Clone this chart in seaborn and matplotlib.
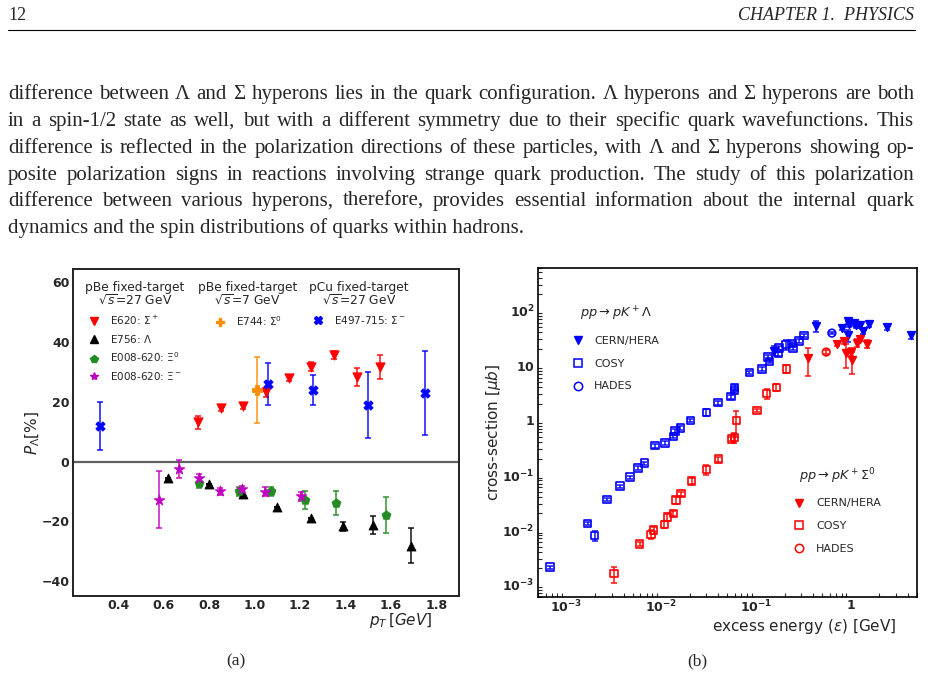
import matplotlib
matplotlib.use("Agg")
import matplotlib.pyplot as plt
import seaborn as sns
from matplotlib.lines import Line2D

# ---------------- page text ----------------
page_number = "12"
chapter_title = "CHAPTER 1.  PHYSICS"
para_lines = [
    "difference between \u039b and \u03a3 hyperons lies in the quark configuration. \u039b hyperons and \u03a3 hyperons are both",
    "in a spin-1/2 state as well, but with a different symmetry due to their specific quark wavefunctions. This",
    "difference is reflected in the polarization directions of these particles, with \u039b and \u03a3 hyperons showing op-",
    "posite polarization signs in reactions involving strange quark production. The study of this polarization",
    "difference between various hyperons, therefore, provides essential information about the internal quark",
    "dynamics and the spin distributions of quarks within hadrons.",
]

# ---------------- (a) hyperon polarization ----------------
e620_pt = [0.75, 0.85, 0.95, 1.05, 1.15, 1.25, 1.35, 1.45, 1.55]
e620_p = [13.2, 17.9, 18.6, 23.3, 28.0, 31.7, 35.7, 28.3, 31.7]
e620_err = [2.2, 1.0, 1.0, 1.5, 1.0, 1.5, 1.5, 2.9, 3.9]

e756_pt = [0.62, 0.80, 0.95, 1.10, 1.25, 1.39, 1.52, 1.69]
e756_p = [-5.6, -7.6, -10.8, -15.3, -18.9, -21.7, -21.3, -28.1]
e756_err = [0.0, 0.0, 0.0, 0.0, 0.0, 1.5, 3.0, 5.8]

xi0_pt = [0.753, 0.93, 1.07, 1.22, 1.36, 1.58]
xi0_p = [-7.1, -9.9, -9.9, -13.0, -13.8, -18.0]
xi0_err = [1.7, 1.5, 1.5, 3.0, 4.0, 6.0]

xim_pt = [0.577, 0.669, 0.756, 0.847, 0.943, 1.044, 1.203]
xim_p = [-12.7, -2.6, -5.6, -9.9, -9.3, -10.1, -11.6]
xim_err = [9.5, 3.0, 1.5, 1.2, 1.2, 1.5, 1.5]

e744_pt = [1.01]
e744_p = [24.0]
e744_err = [11.0]

e497_pt = [0.32, 1.06, 1.255, 1.50, 1.75]
e497_p = [12.0, 26.0, 24.0, 19.0, 23.0]
e497_err = [8.0, 7.0, 5.0, 11.0, 14.0]

# ---------------- (b) cross sections ----------------
lam_cosy_e = [6.7e-4, 1.67e-3, 1.98e-3, 2.67e-3, 3.67e-3, 4.71e-3, 5.7e-3, 6.65e-3,
              8.6e-3, 1.1e-2, 1.34e-2, 1.39e-2, 1.59e-2, 2.03e-2, 3.0e-2, 3.96e-2,
              5.46e-2, 5.9e-2, 5.95e-2, 8.5e-2, 0.115, 0.134, 0.139, 0.172, 0.175,
              0.206, 0.241, 0.247, 0.283, 0.319]
lam_cosy_xs = [2.1e-3, 1.32e-2, 8.0e-3, 3.6e-2, 6.3e-2, 9.2e-2, 0.134, 0.165,
               0.345, 0.39, 0.51, 0.64, 0.73, 1.0, 1.4, 2.1,
               2.7, 3.5, 4.0, 7.4, 8.7, 14.3, 11.9, 16.5, 21.0,
               24.0, 25.0, 21.0, 28.0, 35.0]
lam_cosy_err = [1.5e-4, 1.0e-3, 1.6e-3, 2.5e-3, 4e-3, 6e-3, 0.01, 0.012,
                0.03, 0.03, 0.04, 0.05, 0.05, 0.07, 0.2, 0.2,
                0.2, 0.3, 0.4, 0.4, 0.6, 1.5, 1.0, 1.5, 2.0,
                5.0, 2.0, 2.0, 2.0, 2.0]
lam_hades_e = [0.632]
lam_hades_xs = [39.0]
lam_hades_err = [2.0]
lam_cern_e = [0.156, 0.434, 0.805, 0.93, 0.96, 0.94, 1.08, 1.13, 1.25, 1.33, 1.55, 2.41, 4.34]
lam_cern_xs = [18.6, 52.0, 48.0, 66.0, 57.0, 36.0, 60.0, 54.0, 54.0, 43.0, 56.0, 50.0, 36.0]
lam_cern_err = [4.0, 12.0, 4.0, 8.0, 6.0, 9.0, 7.0, 6.0, 5.0, 6.0, 5.0, 6.0, 5.0]

sig_cosy_e = [3.16e-3, 5.9e-3, 7.8e-3, 8.3e-3, 1.08e-2, 1.16e-2, 1.34e-2, 1.42e-2,
              1.61e-2, 2.09e-2, 3.0e-2, 4.0e-2, 5.5e-2, 5.9e-2, 6.2e-2, 0.102,
              0.129, 0.164, 0.209]
sig_cosy_xs = [1.6e-3, 5.6e-3, 8.3e-3, 9.9e-3, 1.27e-2, 1.73e-2, 2.0e-2, 3.5e-2,
               4.6e-2, 7.8e-2, 0.127, 0.196, 0.456, 0.49, 1.0, 1.5,
               3.1, 4.0, 8.7]
sig_cosy_err = [5e-4, 5e-4, 1.5e-3, 1.5e-3, 2e-3, 2.5e-3, 2e-3, 5e-3,
                4e-3, 0.01, 0.025, 0.02, 0.04, 0.1, 0.5, 0.1,
                0.6, 0.6, 1.5]
sig_hades_e = [0.55]
sig_hades_xs = [17.6]
sig_hades_err = [1.5]
sig_cern_e = [0.355, 0.724, 0.857, 0.88, 1.0, 1.02, 1.15, 1.25, 1.47]
sig_cern_xs = [13.5, 25.0, 28.0, 16.9, 17.6, 12.4, 26.0, 31.0, 25.0]
sig_cern_err = [7.0, 2.5, 3.0, 8.0, 3.0, 5.5, 4.0, 3.0, 4.0]

sns.set_style("white")
plt.rcParams["font.family"] = ["DejaVu Sans"]
plt.rcParams["mathtext.fontset"] = "dejavusans"

W, H = 929, 677
fig = plt.figure(figsize=(W / 100, H / 100), dpi=100)
serif = ["Liberation Serif", "DejaVu Serif"]

# ---------------- panel (a) ----------------
ax1 = fig.add_axes([73 / W, 1 - 596 / H, 386 / W, 327 / H])
pol_series = [
    (e620_pt, e620_p, e620_err, "v", "red", 45, "E620: $\\Sigma^+$"),
    (e756_pt, e756_p, e756_err, "^", "black", 42, "E756: $\\Lambda$"),
    (xi0_pt, xi0_p, xi0_err, "p", "#228B22", 45, "E008-620: $\\Xi^0$"),
    (xim_pt, xim_p, xim_err, "*", "#c000c0", 65, "E008-620: $\\Xi^-$"),
    (e744_pt, e744_p, e744_err, "P", "darkorange", 45, "E744: $\\Sigma^0$"),
    (e497_pt, e497_p, e497_err, "X", "blue", 45, "E497-715: $\\Sigma^-$"),
]
ax1.axhline(0, color="#606060", lw=1.6, zorder=1)
handles = []
for x, y, e, m, c, s, lab in pol_series:
    ax1.errorbar(x, y, yerr=e, fmt="none", ecolor=c, elinewidth=1.2,
                 capsize=2, capthick=1.2, alpha=0.85, zorder=2)
    sns.scatterplot(x=x, y=y, marker=m, color=c, edgecolor=c, s=s,
                    linewidth=0.6, ax=ax1, zorder=3, legend=False)
    handles.append(Line2D([], [], ls="none", marker=m, color=c, ms=6))

ax1.set_xlim(0.2, 1.9)
ax1.set_ylim(-45, 64.5)
ax1.set_xticks([0.4, 0.6, 0.8, 1.0, 1.2, 1.4, 1.6, 1.8])
ax1.set_yticks([-40, -20, 0, 20, 40, 60])
ax1.tick_params(direction="in", length=5, width=1.3, labelsize=9, pad=2.5,
                top=False, right=False)
plt.setp(ax1.get_xticklabels() + ax1.get_yticklabels(), fontweight="bold")
for sp in ax1.spines.values():
    sp.set_linewidth(1.4)
    sp.set_color("#222222")
ax1.set_ylabel("$P_{\\Lambda}$[%]", fontsize=11)
ax1.yaxis.set_label_coords(-0.08, 0.5)
ax1.set_xlabel("$p_T\\,[GeV]$", fontsize=11)
ax1.xaxis.set_label_coords(0.93, -0.046)
ax1.xaxis.label.set_horizontalalignment("right")

leg_kw = dict(loc="upper left", frameon=False, fontsize=7.5, title_fontsize=8.8,
              handletextpad=0.9, labelspacing=0.55, handlelength=1.2,
              borderpad=0, borderaxespad=0)
legA = ax1.legend(handles=handles[:4], labels=[p[6] for p in pol_series[:4]],
                  title="pBe fixed-target\n$\\sqrt{s}$=27 GeV",
                  bbox_to_anchor=(0.031, 0.962), **leg_kw)
ax1.add_artist(legA)
legB = ax1.legend(handles=[handles[4]], labels=[pol_series[4][6]],
                  title="pBe fixed-target\n$\\sqrt{s}$=7 GeV",
                  bbox_to_anchor=(0.324, 0.962), **leg_kw)
ax1.add_artist(legB)
legC = ax1.legend(handles=[handles[5]], labels=[pol_series[5][6]],
                  title="pCu fixed-target\n$\\sqrt{s}$=27 GeV",
                  bbox_to_anchor=(0.611, 0.962), **leg_kw)
for lg in (legA, legB, legC):
    lg.get_title().set_multialignment("center")
    lg.get_title().set_linespacing(0.95)

# ---------------- panel (b) ----------------
ax2 = fig.add_axes([538 / W, 1 - 597 / H, 379 / W, 329 / H])
ax2.set_xscale("log")
ax2.set_yscale("log")
xs_series = [
    (lam_cosy_e, lam_cosy_xs, lam_cosy_err, "s", "blue", False),
    (lam_hades_e, lam_hades_xs, lam_hades_err, "o", "blue", False),
    (lam_cern_e, lam_cern_xs, lam_cern_err, "v", "blue", True),
    (sig_cosy_e, sig_cosy_xs, sig_cosy_err, "s", "red", False),
    (sig_hades_e, sig_hades_xs, sig_hades_err, "o", "red", False),
    (sig_cern_e, sig_cern_xs, sig_cern_err, "v", "red", True),
]
for x, y, e, m, c, filled in xs_series:
    ax2.errorbar(x, y, yerr=e, fmt="none", ecolor=c, elinewidth=1.2,
                 capsize=2, capthick=1.2, alpha=0.85, zorder=2)
    sns.scatterplot(x=x, y=y, marker=m, color=c, edgecolor=c,
                    facecolor=c if filled else "none", s=30,
                    linewidth=1.2, ax=ax2, zorder=3, legend=False)

ax2.set_xlim(5e-4, 5)
ax2.set_ylim(6e-4, 600)
ax2.set_xticks([1e-3, 1e-2, 1e-1, 1])
ax2.set_xticklabels(["$\\mathbf{10^{-3}}$", "$\\mathbf{10^{-2}}$",
                     "$\\mathbf{10^{-1}}$", "$\\mathbf{1}$"])
ax2.set_yticks([1e-3, 1e-2, 1e-1, 1, 10, 100])
ax2.set_yticklabels(["$\\mathbf{10^{-3}}$", "$\\mathbf{10^{-2}}$",
                     "$\\mathbf{10^{-1}}$", "$\\mathbf{1}$", "$\\mathbf{10}$",
                     "$\\mathbf{10^{2}}$"])
ax2.tick_params(which="major", direction="in", length=6, width=1.1,
                labelsize=9, pad=2.5, top=False, right=False)
ax2.tick_params(axis="x", which="major", pad=1.5)
ax2.tick_params(which="minor", direction="in", length=3, width=0.8,
                top=False, right=False, left=True, bottom=True)
for sp in ax2.spines.values():
    sp.set_linewidth(1.2)
    sp.set_color("black")
ax2.set_ylabel("cross-section [$\\mu b$]", fontsize=11)
ax2.yaxis.set_label_coords(-0.092, 0.5)
ax2.set_xlabel("excess energy ($\\varepsilon$) [GeV]", fontsize=11)
ax2.xaxis.set_label_coords(0.947, -0.062)
ax2.xaxis.label.set_horizontalalignment("right")

leg2_kw = dict(loc="upper left", frameon=False, fontsize=8, title_fontsize=9.3,
               handletextpad=1.0, labelspacing=1.15, handlelength=1.0,
               borderpad=0, borderaxespad=0)


def xs_handles(c):
    return [Line2D([], [], ls="none", marker="v", color=c, ms=6),
            Line2D([], [], ls="none", marker="s", color=c, mfc="none", ms=6, mew=1.1),
            Line2D([], [], ls="none", marker="o", color=c, mfc="none", ms=6, mew=1.1)]


names = ["CERN/HERA", "COSY", "HADES"]
lg1 = ax2.legend(handles=xs_handles("blue"), labels=names,
                 title="$pp\\rightarrow pK^+\\Lambda$",
                 bbox_to_anchor=(0.09, 0.888), **leg2_kw)
ax2.add_artist(lg1)
ax2.legend(handles=xs_handles("red"), labels=names,
           title="$pp\\rightarrow pK^+\\Sigma^0$",
           bbox_to_anchor=(0.675, 0.398), **leg2_kw)

# ---------------- page decorations ----------------
fig.text(8 / W, 1 - 20 / H, page_number, family=serif, fontsize=13, va="baseline")
fig.text(914 / W, 1 - 20 / H, chapter_title, family=serif, style="italic",
         fontsize=13, ha="right", va="baseline")
fig.add_artist(Line2D([8 / W, 915 / W], [1 - 30 / H, 1 - 30 / H],
                      color="black", lw=0.8))

fig.text(236 / W, 1 - 665 / H, "(a)", family=serif, fontsize=12.5, ha="center")
fig.text(697 / W, 1 - 665 / H, "(b)", family=serif, fontsize=12.5, ha="center")

fig.canvas.draw()
renderer = fig.canvas.get_renderer()
txt_kw = dict(family=serif, fontsize=15, va="baseline")
x_left, x_right = 8, 914
baselines = [99, 126, 153, 180, 206, 233]
for i, line in enumerate(para_lines):
    yf = 1 - baselines[i] / H
    if i == len(para_lines) - 1:
        fig.text(x_left / W, yf, line, **txt_kw)
        continue
    words = line.split()
    ts = [fig.text(0, yf, w, **txt_kw) for w in words]
    widths = [t.get_window_extent(renderer).width for t in ts]
    gap = (x_right - x_left - sum(widths)) / (len(words) - 1)
    xpos = x_left
    for t, w in zip(ts, widths):
        t.set_x(xpos / W)
        xpos += w + gap

fig.savefig("out.png", dpi=100)
